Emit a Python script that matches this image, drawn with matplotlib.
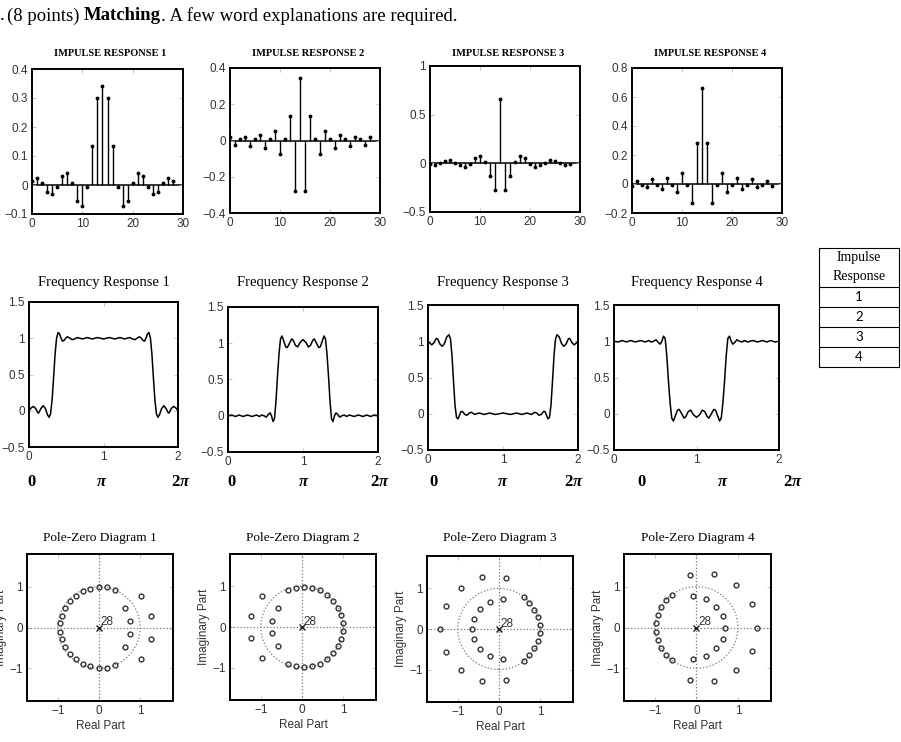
import matplotlib
matplotlib.use("Agg")
import matplotlib.pyplot as plt
from matplotlib.patches import Circle
from matplotlib.lines import Line2D
from matplotlib.ticker import FuncFormatter

W, H = 901, 742

# ---- impulse responses (n = 0..28) ----
n = list(range(29))
ir1 = [0.015, 0.023, 0.006, -0.023, -0.032, -0.006, 0.031, 0.043, 0.006, -0.054, -0.073, -0.006, 0.135, 0.30, 0.34,
       0.30, 0.135, -0.006, -0.073, -0.054, 0.006, 0.043, 0.031, -0.006, -0.032, -0.023, 0.006, 0.023, 0.015]
ir2 = [0.017, -0.026, 0.009, 0.022, -0.033, 0.009, 0.031, -0.042, 0.009, 0.053, -0.074, 0.009, 0.136, -0.28, 0.344,
       -0.28, 0.136, 0.009, -0.074, 0.053, 0.009, -0.042, 0.031, 0.009, -0.033, 0.022, 0.009, -0.026, 0.017]
ir3 = [-0.007, -0.02, 0.004, 0.027, 0.034, 0.007, -0.02, -0.034, -0.005, 0.054, 0.075, 0.013, -0.13, -0.275, 0.663,
       -0.275, -0.13, 0.013, 0.075, 0.054, -0.005, -0.034, -0.02, 0.007, 0.034, 0.027, 0.004, -0.02, -0.007]
ir4 = [-0.012, 0.023, -0.007, -0.018, 0.032, -0.007, -0.034, 0.044, -0.005, -0.053, 0.074, -0.007, -0.133, 0.285, 0.664,
       0.285, -0.133, -0.007, 0.074, -0.053, -0.005, 0.044, -0.034, -0.007, 0.032, -0.018, -0.007, 0.023, -0.012]
ir_titles = ["IMPULSE RESPONSE 1", "IMPULSE RESPONSE 2", "IMPULSE RESPONSE 3", "IMPULSE RESPONSE 4"]
ir_ylims = [(-0.1, 0.4), (-0.4, 0.4), (-0.5, 1.0), (-0.2, 0.8)]
ir_yticks = [[-0.1, 0, 0.1, 0.2, 0.3, 0.4], [-0.4, -0.2, 0, 0.2, 0.4], [-0.5, 0, 0.5, 1], [-0.2, 0, 0.2, 0.4, 0.6, 0.8]]
ir_xticks = [0, 10, 20, 30]

# ---- frequency responses (x in units of pi) ----
fr1_x = [0.00, 0.03, 0.06, 0.09, 0.12, 0.13, 0.16, 0.19, 0.22, 0.25, 0.27, 0.29, 0.31, 0.33, 0.35, 0.37, 0.39, 0.41,
         0.43, 0.45, 0.47, 0.50, 0.52, 0.55, 0.58, 0.61, 0.65, 0.72, 0.78, 0.85, 0.92, 1.00, 1.08, 1.15, 1.22, 1.28,
         1.35, 1.39, 1.42, 1.45, 1.48, 1.50, 1.53, 1.55, 1.57, 1.59, 1.61, 1.63, 1.65, 1.67, 1.69, 1.71, 1.73, 1.75,
         1.78, 1.81, 1.84, 1.87, 1.88, 1.91, 1.94, 1.97, 2.00]
fr1_y = [0.00, 0.04, 0.06, 0.03, -0.03, -0.03, 0.03, 0.07, 0.03, -0.06, -0.09, -0.04, 0.15, 0.45, 0.78, 1.00, 1.08, 1.06,
         1.00, 0.96, 0.97, 1.01, 1.02, 1.00, 0.98, 0.99, 1.01, 0.99, 1.01, 0.99, 1.01, 0.99, 1.01, 0.99, 1.01, 0.99,
         1.01, 0.99, 0.98, 1.00, 1.02, 1.01, 0.97, 0.96, 1.00, 1.06, 1.08, 1.00, 0.78, 0.45, 0.15, -0.04, -0.09, -0.06,
         0.03, 0.07, 0.03, -0.03, -0.03, 0.03, 0.06, 0.04, 0.00]
fr2_x = [0.00, 0.05, 0.10, 0.15, 0.20, 0.26, 0.32, 0.38, 0.42, 0.45, 0.48, 0.51, 0.54, 0.56, 0.58, 0.60, 0.62, 0.64,
         0.66, 0.68, 0.70, 0.72, 0.74, 0.77, 0.79, 0.82, 0.85, 0.87, 0.90, 0.93, 0.96, 1.00, 1.04, 1.07, 1.10, 1.13,
         1.15, 1.18, 1.21, 1.23, 1.26, 1.28, 1.30, 1.32, 1.34, 1.36, 1.38, 1.40, 1.42, 1.44, 1.46, 1.49, 1.52, 1.55,
         1.58, 1.62, 1.68, 1.74, 1.80, 1.85, 1.90, 1.95, 2.00]
fr2_y = [0.00, 0.01, -0.01, 0.01, -0.01, 0.01, -0.01, 0.01, -0.01, 0.01, 0.00, -0.02, 0.02, 0.04, 0.00, -0.08, -0.04,
         0.20, 0.55, 0.85, 1.06, 1.10, 1.04, 0.95, 0.94, 1.00, 1.06, 1.04, 0.97, 0.95, 1.01, 1.05, 1.01, 0.95, 0.97,
         1.04, 1.06, 1.00, 0.94, 0.95, 1.04, 1.10, 1.06, 0.85, 0.55, 0.20, -0.04, -0.08, 0.00, 0.04, 0.02, -0.02, 0.00,
         0.01, -0.01, 0.01, -0.01, 0.01, -0.01, 0.01, -0.01, 0.01, 0.00]
fr3_x = [0.00, 0.02, 0.05, 0.08, 0.11, 0.13, 0.16, 0.19, 0.22, 0.25, 0.28, 0.30, 0.32, 0.34, 0.36, 0.38, 0.40, 0.42,
         0.44, 0.46, 0.49, 0.52, 0.55, 0.58, 0.62, 0.68, 0.75, 0.82, 0.90, 1.00, 1.10, 1.18, 1.25, 1.32, 1.38, 1.42,
         1.45, 1.48, 1.51, 1.54, 1.56, 1.58, 1.60, 1.62, 1.64, 1.66, 1.68, 1.70, 1.72, 1.75, 1.78, 1.81, 1.84, 1.87,
         1.89, 1.92, 1.95, 1.98, 2.00]
fr3_y = [1.00, 0.98, 0.95, 0.98, 1.04, 1.03, 0.96, 0.93, 0.97, 1.06, 1.09, 1.03, 0.80, 0.45, 0.12, -0.05, -0.07, -0.02,
         0.03, 0.03, -0.01, -0.02, 0.01, 0.02, -0.01, 0.01, -0.01, 0.01, -0.01, 0.01, -0.01, 0.01, -0.01, 0.01, -0.01,
         0.02, 0.01, -0.02, -0.01, 0.03, 0.03, -0.02, -0.07, -0.05, 0.12, 0.45, 0.80, 1.03, 1.09, 1.06, 0.97, 0.93,
         0.96, 1.03, 1.04, 0.98, 0.95, 0.98, 1.00]
fr4_x = [0.00, 0.05, 0.10, 0.15, 0.20, 0.26, 0.32, 0.38, 0.42, 0.45, 0.48, 0.51, 0.54, 0.56, 0.58, 0.60, 0.62, 0.64,
         0.66, 0.68, 0.70, 0.72, 0.74, 0.77, 0.79, 0.82, 0.85, 0.87, 0.90, 0.93, 0.96, 1.00, 1.04, 1.07, 1.10, 1.13,
         1.15, 1.18, 1.21, 1.23, 1.26, 1.28, 1.30, 1.32, 1.34, 1.36, 1.38, 1.40, 1.42, 1.44, 1.46, 1.49, 1.52, 1.55,
         1.58, 1.62, 1.68, 1.74, 1.80, 1.85, 1.90, 1.95, 2.00]
fr4_y = [1.00, 0.99, 1.01, 0.99, 1.01, 0.99, 1.01, 0.99, 1.01, 0.99, 1.00, 1.02, 0.98, 0.96, 1.00, 1.07, 1.04, 0.80,
         0.45, 0.15, -0.06, -0.10, -0.04, 0.05, 0.06, 0.00, -0.06, -0.04, 0.03, 0.05, -0.01, -0.05, -0.01, 0.05, 0.03,
         -0.04, -0.06, 0.00, 0.06, 0.05, -0.04, -0.10, -0.06, 0.15, 0.45, 0.80, 1.04, 1.07, 1.00, 0.96, 0.98, 1.02,
         1.00, 0.99, 1.01, 0.99, 1.01, 0.99, 1.01, 0.99, 1.01, 0.99, 1.00]
fr_titles = ["Frequency Response 1", "Frequency Response 2", "Frequency Response 3", "Frequency Response 4"]
fr_xticks = [0, 1, 2]
fr_yticks = [-0.5, 0, 0.5, 1, 1.5]

# ---- pole-zero diagrams: zeros (real, imag), 28 poles at the origin ----
pz1_re = [-0.23, 0.00, 0.19, 0.39, -0.40, -0.56, -0.71, -0.82, -0.90, -0.95, 0.64, 0.76, 1.01, 1.27,
          -0.23, 0.00, 0.19, 0.39, -0.40, -0.56, -0.71, -0.82, -0.90, -0.95, 0.64, 0.76, 1.01, 1.27]
pz1_im = [0.95, 1.00, 0.99, 0.93, 0.89, 0.78, 0.64, 0.47, 0.29, 0.10, 0.48, 0.16, 0.78, 0.28,
          -0.95, -1.00, -0.99, -0.93, -0.89, -0.78, -0.64, -0.47, -0.29, -0.10, -0.48, -0.16, -0.78, -0.28]
pz2_re = [-0.34, -0.15, 0.05, 0.25, 0.44, 0.61, 0.76, 0.87, 0.95, 0.99, -0.59, -0.72, -0.97, -1.23,
          -0.34, -0.15, 0.05, 0.25, 0.44, 0.61, 0.76, 0.87, 0.95, 0.99, -0.59, -0.72, -0.97, -1.23]
pz2_im = [0.92, 0.97, 0.99, 0.96, 0.91, 0.78, 0.64, 0.47, 0.29, 0.10, 0.48, 0.16, 0.77, 0.27,
          -0.92, -0.97, -0.99, -0.96, -0.91, -0.78, -0.64, -0.47, -0.29, -0.10, -0.48, -0.16, -0.77, -0.27]
pz3_re = [-0.41, 0.16, -0.93, -1.30, -0.21, 0.11, -0.45, -0.61, 0.60, 0.74, 0.86, 0.95, 1.00,
          -0.41, 0.16, -0.93, -1.30, -0.21, 0.11, -0.45, -0.61, 0.60, 0.74, 0.86, 0.95, 1.00,
          -1.43, -0.66]
pz3_im = [1.27, 1.25, 1.02, 0.56, 0.67, 0.73, 0.49, 0.25, 0.78, 0.65, 0.48, 0.29, 0.09,
          -1.27, -1.25, -1.02, -0.56, -0.67, -0.73, -0.49, -0.25, -0.78, -0.65, -0.48, -0.29, -0.09,
          0.00, 0.00]
pz4_re = [-0.15, 0.43, 0.96, 1.34, -0.08, 0.23, 0.48, 0.63, -0.59, -0.73, -0.85, -0.93, -0.98,
          -0.15, 0.43, 0.96, 1.34, -0.08, 0.23, 0.48, 0.63, -0.59, -0.73, -0.85, -0.93, -0.98,
          1.47, 0.68]
pz4_im = [1.29, 1.30, 1.05, 0.58, 0.76, 0.69, 0.51, 0.27, 0.79, 0.67, 0.50, 0.30, 0.10,
          -1.29, -1.30, -1.05, -0.58, -0.76, -0.69, -0.51, -0.27, -0.79, -0.67, -0.50, -0.30, -0.10,
          0.00, 0.00]
pz_titles = ["Pole-Zero Diagram 1", "Pole-Zero Diagram 2", "Pole-Zero Diagram 3", "Pole-Zero Diagram 4"]
pz_ticks = [-1, 0, 1]
n_poles = "28"

table_rows = ["1", "2", "3", "4"]

# ---- layout (pixel boxes: left, top, right, bottom) ----
ir_boxes = [(32, 69, 183, 214), (230, 68, 380, 213), (430, 66, 580, 212), (632, 68, 782, 213)]
fr_boxes = [(29, 302, 178, 447), (228, 307, 378, 452), (428, 305, 578, 450), (614, 305, 779, 450)]
pz_boxes = [(27, 554, 173, 701), (230, 554, 376, 700), (427, 556, 573, 702), (624, 554, 771, 701)]
pi_pos = [(31, 101, 180), (231, 303, 379), (433, 502, 573), (642, 722, 792)]

TICK = "#333333"
SANS = "Liberation Sans"
SERIF = "Liberation Serif"

fig = plt.figure(figsize=(W / 100, H / 100), dpi=100)


def fx(x):
    return x / W


def fy(y):
    return 1 - y / H


def place(b):
    l, t, r, bt = b
    return fig.add_axes([l / W, 1 - bt / H, (r - l) / W, (bt - t) / H])


def fmt(v, pos):
    return ("%g" % round(v, 6)).replace("-", "\u2212")


def style(ax):
    for s in ax.spines.values():
        s.set_linewidth(1.4)
        s.set_color("black")
    ax.tick_params(direction="in", length=3, width=0.6, color="#bbbbbb", top=True, right=True,
                   labelsize=8.5, labelcolor=TICK, pad=3)
    for lab in ax.get_xticklabels() + ax.get_yticklabels():
        lab.set_family(SANS)
    ax.xaxis.set_major_formatter(FuncFormatter(fmt))
    ax.yaxis.set_major_formatter(FuncFormatter(fmt))


plt.rcParams["font.family"] = SANS

# heading
r = fig.canvas.get_renderer()
fig.text(fx(0), fy(16), ".", fontsize=13.5, family=SERIF, va="center")
x0 = 7
for s, wt, gap in [("(8 points)", "normal", 4.7), ("Matching", "bold", 0),
                   (". A few word explanations are required.", "normal", 0)]:
    t = fig.text(fx(x0), fy(16), s, fontsize=13.5, family=SERIF, weight=wt, va="center")
    x0 += t.get_window_extent(renderer=r).width + gap

# impulse responses
for h, b, title, yl, yt in zip([ir1, ir2, ir3, ir4], ir_boxes, ir_titles, ir_ylims, ir_yticks):
    ax = place(b)
    ax.axhline(0, color="black", lw=1.1, zorder=1)
    ml, sl, bl = ax.stem(n, h, linefmt="k-", markerfmt="k.", basefmt=" ")
    plt.setp(sl, linewidth=1.0)
    plt.setp(ml, markersize=3.5)
    ax.set_xlim(0, 30)
    ax.set_ylim(*yl)
    ax.set_xticks(ir_xticks)
    ax.set_yticks(yt)
    style(ax)
    fig.text(fx((b[0] + b[2]) / 2 + 3), fy(53), title, fontsize=7.5, family=SERIF, weight="bold",
             ha="center", va="center")

# frequency responses
for xs, ys, b, title, pp in zip([fr1_x, fr2_x, fr3_x, fr4_x], [fr1_y, fr2_y, fr3_y, fr4_y],
                                fr_boxes, fr_titles, pi_pos):
    ax = place(b)
    ax.plot(xs, ys, color="black", lw=1.1)
    ax.set_xlim(0, 2)
    ax.set_ylim(-0.5, 1.5)
    ax.set_xticks(fr_xticks)
    ax.set_yticks(fr_yticks)
    style(ax)
    fig.text(fx((b[0] + b[2]) / 2), fy(283), title, fontsize=10.5, family=SERIF, ha="center", va="center")
    fig.text(fx(pp[0]), fy(482), "0", fontsize=12, family=SERIF, weight="bold", ha="center", va="center")
    fig.text(fx(pp[1]), fy(482), "\u03c0", fontsize=12, family=SERIF, weight="bold", style="italic",
             ha="center", va="center")
    fig.text(fx(pp[2]), fy(482), "2", fontsize=12, family=SERIF, weight="bold", ha="right", va="center")
    fig.text(fx(pp[2]), fy(482), "\u03c0", fontsize=12, family=SERIF, weight="bold", style="italic",
             ha="left", va="center")

# pole-zero diagrams
for re, im, b, title in zip([pz1_re, pz2_re, pz3_re, pz4_re], [pz1_im, pz2_im, pz3_im, pz4_im], pz_boxes, pz_titles):
    ax = place(b)
    ax.add_patch(Circle((0, 0), 1, fill=False, ls=":", lw=0.9, color="#777777"))
    ax.axhline(0, ls=":", lw=0.9, color="#777777")
    ax.axvline(0, ls=":", lw=0.9, color="#777777")
    ax.plot(re, im, "o", ms=3.5, mfc="none", mec="#333333", mew=1.0)
    ax.plot([0], [0], "x", ms=5, mec="#222222", mew=1.0)
    ax.text(0.04, 0.05, n_poles, fontsize=8.5, color="#333333")
    ax.set_xlim(-1.75, 1.8)
    ax.set_ylim(-1.8, 1.8)
    ax.set_xticks(pz_ticks)
    ax.set_yticks(pz_ticks)
    style(ax)
    ax.set_xlabel("Real Part", fontsize=8.5, color=TICK, labelpad=2)
    ax.set_ylabel("Imaginary Part", fontsize=8.5, color=TICK, labelpad=2)
    fig.text(fx((b[0] + b[2]) / 2), fy(538), title, fontsize=9.6, family=SERIF, ha="center", va="center")

# matching table
tl, tr = 819, 899
ty = [248, 287, 307, 327, 347, 367]
for y in ty:
    fig.add_artist(Line2D([fx(tl), fx(tr)], [fy(y), fy(y)], color="black", lw=0.8))
for x in (tl, tr):
    fig.add_artist(Line2D([fx(x), fx(x)], [fy(ty[0]), fy(ty[-1])], color="black", lw=0.8))
fig.text(fx((tl + tr) / 2), fy(258), "Impulse", fontsize=10, family=SERIF, ha="center", va="center")
fig.text(fx((tl + tr) / 2), fy(276), "Response", fontsize=10, family=SERIF, ha="center", va="center")
for i, lab in enumerate(table_rows):
    fig.text(fx((tl + tr) / 2), fy((ty[i + 1] + ty[i + 2]) / 2), lab, fontsize=9.5, family="Lato",
             ha="center", va="center")

fig.savefig("out.png", dpi=100)
